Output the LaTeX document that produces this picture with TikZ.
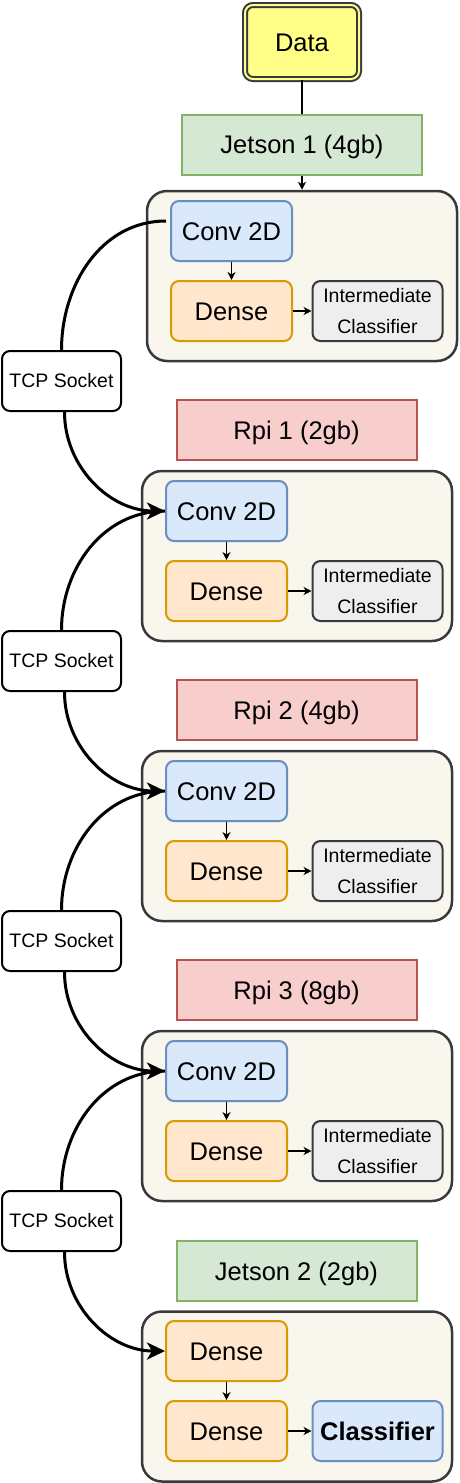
\documentclass[tikz,border=0pt]{standalone}
\usepackage{fontspec}
\setmainfont{Liberation Sans}
\usepackage{tikz}
\usepackage{xcolor}
\usetikzlibrary{arrows.meta}

\definecolor{dataFill}{HTML}{FFFF88}
\definecolor{darkLine}{HTML}{36393D}
\definecolor{jetFill}{HTML}{D5E8D4}
\definecolor{jetLine}{HTML}{82B366}
\definecolor{rpiFill}{HTML}{F8CECC}
\definecolor{rpiLine}{HTML}{B85450}
\definecolor{stageFill}{HTML}{F9F7ED}
\definecolor{convFill}{HTML}{DAE8FC}
\definecolor{convLine}{HTML}{6C8EBF}
\definecolor{denseFill}{HTML}{FFE6CC}
\definecolor{denseLine}{HTML}{D79B00}
\definecolor{interFill}{HTML}{EEEEEE}

\begin{document}
\begin{tikzpicture}[x=1pt,y=-1pt,
    bigtext/.style={font=\fontsize{25.5}{30}\selectfont, text height=18.3pt, text depth=0pt},
    smalltext/.style={font=\fontsize{19.5}{31}\selectfont, align=center},
    datanode/.style={bigtext, draw=darkLine, line width=2pt, double=dataFill, double distance=2pt,
        fill=dataFill, rounded corners=8pt, minimum width=114pt, minimum height=74pt, inner sep=0pt},
    jetson/.style={bigtext, draw=jetLine, fill=jetFill, line width=2pt, minimum width=240pt, minimum height=60pt, inner sep=0pt},
    rpi/.style={bigtext, draw=rpiLine, fill=rpiFill, line width=2pt, minimum width=240pt, minimum height=60pt, inner sep=0pt},
    stage/.style={draw=darkLine, fill=stageFill, line width=2.5pt, rounded corners=20pt, minimum width=310pt, minimum height=170pt, inner sep=0pt},
    layer/.style={line width=2pt, rounded corners=8pt, minimum height=60pt, inner sep=0pt},
    conv/.style={layer, bigtext, draw=convLine, fill=convFill, minimum width=121pt},
    dense/.style={layer, bigtext, draw=denseLine, fill=denseFill, minimum width=121pt},
    inter/.style={layer, smalltext, draw=darkLine, fill=interFill, minimum width=130pt},
    final/.style={layer, bigtext, font=\fontsize{25.5}{30}\selectfont\bfseries, draw=convLine, fill=convFill, minimum width=130pt},
    socket/.style={smalltext, draw=black, fill=white, line width=2pt, rounded corners=8pt, minimum width=119pt, minimum height=60pt, inner sep=0pt},
    thin/.style={line width=1.3pt, -{Stealth[length=8pt,width=8pt,inset=2.5pt]}},
    link/.style={line width=3pt},
    linkto/.style={link, -{Stealth[length=18pt,width=17pt,inset=5pt]}}
  ]
  \useasboundingbox (0,0) rectangle (459,1483);
  % input and devices
  \node[datanode] (data) at (302,42) {Data};
  \node[jetson] (jet1) at (302,144.5) {Jetson 1 (4gb)};
  \node[rpi] (rpi1) at (296.5,430) {Rpi 1 (2gb)};
  \node[rpi] (rpi2) at (296.5,710) {Rpi 2 (4gb)};
  \node[rpi] (rpi3) at (296.5,990) {Rpi 3 (8gb)};
  \node[jetson] (jet2) at (296.5,1271) {Jetson 2 (2gb)};
  % stages
  \node[stage] (stage1) at (302,276) {};
  \node[stage] (stage2) at (297,556) {};
  \node[stage] (stage3) at (297,836) {};
  \node[stage] (stage4) at (297,1116) {};
  \node[stage] (stage5) at (297,1396.5) {};
  % layers
  \node[conv] (conv1) at (231.5,231) {Conv 2D};
  \node[dense] (dense1) at (231.5,311) {Dense};
  \node[inter] (ic1) at (377.5,311) {Intermediate\\Classifier};
  \node[conv] (conv2) at (226.5,511) {Conv 2D};
  \node[dense] (dense2) at (226.5,591) {Dense};
  \node[inter] (ic2) at (377.5,591) {Intermediate\\Classifier};
  \node[conv] (conv3) at (226.5,791) {Conv 2D};
  \node[dense] (dense3) at (226.5,871) {Dense};
  \node[inter] (ic3) at (377.5,871) {Intermediate\\Classifier};
  \node[conv] (conv4) at (226.5,1071) {Conv 2D};
  \node[dense] (dense4) at (226.5,1151) {Dense};
  \node[inter] (ic4) at (377.5,1151) {Intermediate\\Classifier};
  \node[dense] (dense5) at (226.5,1351) {Dense};
  \node[dense] (dense6) at (226.5,1431) {Dense};
  \node[final] (cls) at (377.5,1431) {Classifier};
  % sockets
  \node[socket] (tcp1) at (61.5,381) {TCP Socket};
  \node[socket] (tcp2) at (61.5,661) {TCP Socket};
  \node[socket] (tcp3) at (61.5,941) {TCP Socket};
  \node[socket] (tcp4) at (61.5,1221) {TCP Socket};
  % short arrows
  \draw[line width=1.5pt] (data) -- (jet1);
  \draw[thin] (jet1) -- (stage1);
  \draw[thin] (conv1) -- (dense1);
  \draw[thin] (dense1) -- (ic1);
  \draw[thin] (conv2) -- (dense2);
  \draw[thin] (dense2) -- (ic2);
  \draw[thin] (conv3) -- (dense3);
  \draw[thin] (dense3) -- (ic3);
  \draw[thin] (conv4) -- (dense4);
  \draw[thin] (dense4) -- (ic4);
  \draw[thin] (dense5) -- (dense6);
  \draw[thin] (dense6) -- (cls);
  % socket links
  \draw[link] ([shift={(-4pt,10pt)}]conv1.west) to[out=180,in=90] (tcp1.north);
  \draw[linkto] ([xshift=3pt]tcp1.south) to[out=-90,in=180] (conv2.west);
  \draw[link] (conv2.west) to[out=180,in=90] (tcp2.north);
  \draw[linkto] ([xshift=3pt]tcp2.south) to[out=-90,in=180] (conv3.west);
  \draw[link] (conv3.west) to[out=180,in=90] (tcp3.north);
  \draw[linkto] ([xshift=3pt]tcp3.south) to[out=-90,in=180] (conv4.west);
  \draw[link] (conv4.west) to[out=180,in=90] (tcp4.north);
  \draw[linkto] ([xshift=3pt]tcp4.south) to[out=-90,in=180] (dense5.west);
\end{tikzpicture}
\end{document}
